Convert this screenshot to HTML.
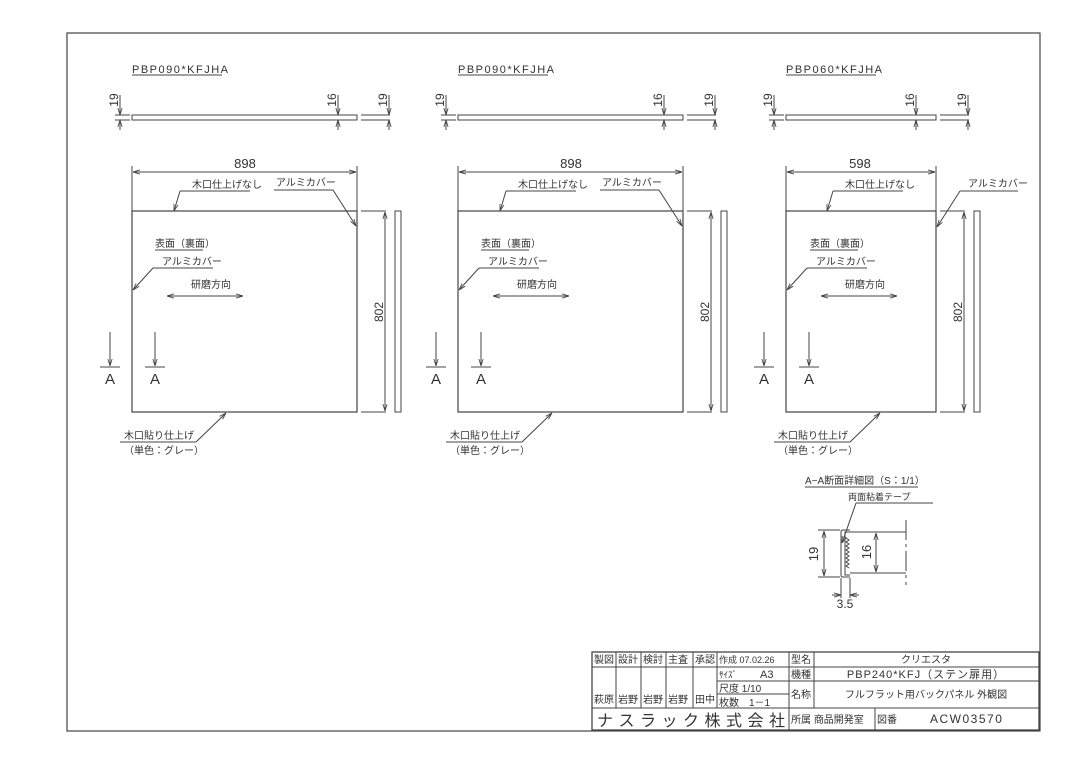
<!DOCTYPE html>
<html><head><meta charset="utf-8"><style>
html,body{margin:0;padding:0;background:#fff;}
svg{display:block;font-family:"Liberation Sans","Noto Sans CJK JP",sans-serif;}
text{fill:#333;}
</style></head><body>
<svg width="1080" height="764" viewBox="0 0 1080 764" xmlns="http://www.w3.org/2000/svg">
<defs>
<marker id="a" viewBox="0 0 10 10" refX="10" refY="5" markerWidth="7" markerHeight="7" orient="auto-start-reverse"><path d="M0,2 L10,5 L0,8" fill="none" stroke="#444" stroke-width="1.2"/></marker>
</defs>
<rect x="0" y="0" width="1080" height="764" fill="#fff"/>
<rect x="67" y="33" width="973" height="698" fill="none" stroke="#444" stroke-width="1.2"/>

<g stroke="#444" stroke-width="1" fill="none" id="p1">
<text x="132" y="73" font-size="11" stroke="none" letter-spacing="1.5">PBP090*KFJHA</text>
<line x1="132" y1="75" x2="222" y2="75"/>
<rect x="132" y="115" width="225" height="5"/>
<line x1="361" y1="115" x2="390" y2="115"/><line x1="361" y1="120" x2="390" y2="120"/>
<line x1="120" y1="95" x2="120" y2="115" marker-end="url(#a)"/><line x1="120" y1="130" x2="120" y2="120" marker-end="url(#a)"/>
<line x1="115" y1="115" x2="130" y2="115"/><line x1="115" y1="120" x2="130" y2="120"/>
<line x1="338" y1="95" x2="338" y2="115" marker-end="url(#a)"/><line x1="338" y1="130" x2="338" y2="120" marker-end="url(#a)"/>
<line x1="389" y1="95" x2="389" y2="115" marker-end="url(#a)"/><line x1="389" y1="130" x2="389" y2="120" marker-end="url(#a)"/>
<text x="118" y="100" font-size="12" stroke="none" transform="rotate(-90 118 100)" text-anchor="middle">19</text>
<text x="336" y="100" font-size="12" stroke="none" transform="rotate(-90 336 100)" text-anchor="middle">16</text>
<text x="387" y="100" font-size="12" stroke="none" transform="rotate(-90 387 100)" text-anchor="middle">19</text>
<rect x="132" y="211" width="225" height="201" stroke-width="1.2"/>
<line x1="132" y1="166" x2="132" y2="211"/><line x1="357" y1="166" x2="357" y2="211"/>
<line x1="133" y1="172" x2="356" y2="172" marker-start="url(#a)" marker-end="url(#a)"/>
<text x="245" y="168" font-size="13" stroke="none" text-anchor="middle">898</text>
<text x="192" y="188" font-size="10" stroke="none">木口仕上げなし</text>
<line x1="180" y1="191" x2="250" y2="191"/><line x1="180" y1="191" x2="174" y2="211" marker-end="url(#a)"/>
<text x="276" y="186" font-size="10" stroke="none">アルミカバー</text>
<line x1="274" y1="190" x2="333" y2="190"/><line x1="333" y1="190" x2="356" y2="226" marker-end="url(#a)"/>
<line x1="361" y1="211" x2="386" y2="211"/><line x1="361" y1="412" x2="386" y2="412"/>
<line x1="385" y1="212" x2="385" y2="411" marker-start="url(#a)" marker-end="url(#a)"/>
<text x="383" y="312" font-size="12" stroke="none" transform="rotate(-90 383 312)" text-anchor="middle">802</text>
<rect x="395" y="211" width="6" height="201"/>
<text x="155" y="247" font-size="10" stroke="none">表面（裏面）</text>
<line x1="155" y1="250" x2="203" y2="250"/>
<text x="162" y="265" font-size="10" stroke="none">アルミカバー</text>
<line x1="153" y1="268" x2="213" y2="268"/><line x1="153" y1="268" x2="133" y2="290" marker-end="url(#a)"/>
<text x="191" y="288" font-size="10" stroke="none">研磨方向</text>
<line x1="167" y1="296" x2="243" y2="296" marker-start="url(#a)" marker-end="url(#a)"/>
<line x1="110" y1="332" x2="110" y2="366" marker-end="url(#a)"/><line x1="100" y1="367" x2="120" y2="367"/>
<text x="110" y="384" font-size="15" stroke="none" text-anchor="middle">A</text>
<line x1="155" y1="332" x2="155" y2="366" marker-end="url(#a)"/><line x1="145" y1="367" x2="165" y2="367"/>
<text x="155" y="384" font-size="15" stroke="none" text-anchor="middle">A</text>
<line x1="196" y1="442" x2="226" y2="413" marker-end="url(#a)"/><line x1="120" y1="442" x2="196" y2="442"/>
<text x="124" y="439" font-size="10" stroke="none">木口貼り仕上げ</text>
<text x="124" y="454" font-size="10" stroke="none">（単色：グレー）</text>
</g>
<use href="#p1" transform="translate(326,0)"/>

<g stroke="#444" stroke-width="1" fill="none">
<text x="786" y="73" font-size="11" stroke="none" letter-spacing="1.5">PBP060*KFJHA</text>
<line x1="786" y1="75" x2="876" y2="75"/>
<rect x="786" y="115" width="150" height="5"/>
<line x1="940" y1="115" x2="969" y2="115"/><line x1="940" y1="120" x2="969" y2="120"/>
<line x1="774" y1="95" x2="774" y2="115" marker-end="url(#a)"/><line x1="774" y1="130" x2="774" y2="120" marker-end="url(#a)"/>
<line x1="769" y1="115" x2="784" y2="115"/><line x1="769" y1="120" x2="784" y2="120"/>
<line x1="916" y1="95" x2="916" y2="115" marker-end="url(#a)"/><line x1="916" y1="130" x2="916" y2="120" marker-end="url(#a)"/>
<line x1="968" y1="95" x2="968" y2="115" marker-end="url(#a)"/><line x1="968" y1="130" x2="968" y2="120" marker-end="url(#a)"/>
<text x="772" y="100" font-size="12" stroke="none" transform="rotate(-90 772 100)" text-anchor="middle">19</text>
<text x="914" y="100" font-size="12" stroke="none" transform="rotate(-90 914 100)" text-anchor="middle">16</text>
<text x="966" y="100" font-size="12" stroke="none" transform="rotate(-90 966 100)" text-anchor="middle">19</text>
<rect x="786" y="211" width="150" height="201" stroke-width="1.2"/>
<line x1="786" y1="166" x2="786" y2="211"/><line x1="936" y1="166" x2="936" y2="211"/>
<line x1="787" y1="172" x2="935" y2="172" marker-start="url(#a)" marker-end="url(#a)"/>
<text x="860" y="168" font-size="13" stroke="none" text-anchor="middle">598</text>
<text x="845" y="188" font-size="10" stroke="none">木口仕上げなし</text>
<line x1="833" y1="191" x2="903" y2="191"/><line x1="833" y1="191" x2="827" y2="211" marker-end="url(#a)"/>
<text x="968" y="187" font-size="10" stroke="none">アルミカバー</text>
<line x1="960" y1="191" x2="1018" y2="191"/><line x1="960" y1="191" x2="937" y2="227" marker-end="url(#a)"/>
<line x1="940" y1="211" x2="965" y2="211"/><line x1="940" y1="412" x2="965" y2="412"/>
<line x1="964" y1="212" x2="964" y2="411" marker-start="url(#a)" marker-end="url(#a)"/>
<text x="962" y="312" font-size="12" stroke="none" transform="rotate(-90 962 312)" text-anchor="middle">802</text>
<rect x="974" y="211" width="6" height="201"/>
<text x="810" y="247" font-size="10" stroke="none">表面（裏面）</text>
<line x1="810" y1="250" x2="858" y2="250"/>
<text x="816" y="265" font-size="10" stroke="none">アルミカバー</text>
<line x1="807" y1="268" x2="867" y2="268"/><line x1="807" y1="268" x2="787" y2="290" marker-end="url(#a)"/>
<text x="845" y="288" font-size="10" stroke="none">研磨方向</text>
<line x1="821" y1="296" x2="897" y2="296" marker-start="url(#a)" marker-end="url(#a)"/>
<line x1="764" y1="332" x2="764" y2="366" marker-end="url(#a)"/><line x1="754" y1="367" x2="774" y2="367"/>
<text x="764" y="384" font-size="15" stroke="none" text-anchor="middle">A</text>
<line x1="809" y1="332" x2="809" y2="366" marker-end="url(#a)"/><line x1="799" y1="367" x2="819" y2="367"/>
<text x="809" y="384" font-size="15" stroke="none" text-anchor="middle">A</text>
<line x1="850" y1="442" x2="880" y2="413" marker-end="url(#a)"/><line x1="774" y1="442" x2="850" y2="442"/>
<text x="778" y="439" font-size="10" stroke="none">木口貼り仕上げ</text>
<text x="778" y="454" font-size="10" stroke="none">（単色：グレー）</text>

<text x="805" y="484" font-size="10" stroke="none">A−A断面詳細図（S：1/1）</text>
<line x1="805" y1="487" x2="918" y2="487"/>
<text x="848" y="500" font-size="9" stroke="none">両面粘着テープ</text>
<line x1="856" y1="503" x2="933" y2="503"/><line x1="856" y1="503" x2="842" y2="543" marker-end="url(#a)"/>
<path d="M850,530 L843,530 Q841,530 841,532 L841,575 Q841,577 843,577 L850,577"/>
<path d="M850,532 L845,532 L845,575 L850,575"/>
<path d="M846,538 l3,2 l-3,2 l3,2 l-3,2 l3,2 l-3,2 l3,2 l-3,2 l3,2 l-3,2 l3,2 l-3,2 l3,2 l-3,2 l3,2"/>
<line x1="850" y1="532" x2="906" y2="532"/><line x1="850" y1="573" x2="906" y2="573"/>
<line x1="906" y1="520" x2="906" y2="585" stroke-dasharray="20 4 3 4"/>
<line x1="818" y1="530" x2="840" y2="530"/><line x1="818" y1="577" x2="840" y2="577"/>
<line x1="824" y1="531" x2="824" y2="576" marker-start="url(#a)" marker-end="url(#a)"/>
<text x="818" y="554" font-size="13" stroke="none" transform="rotate(-90 818 554)" text-anchor="middle">19</text>
<line x1="876" y1="533" x2="876" y2="572" marker-start="url(#a)" marker-end="url(#a)"/>
<text x="871" y="552" font-size="13" stroke="none" transform="rotate(-90 871 552)" text-anchor="middle">16</text>
<line x1="841" y1="578" x2="841" y2="598"/><line x1="850" y1="578" x2="850" y2="598"/>
<line x1="832" y1="595" x2="841" y2="595" marker-end="url(#a)"/><line x1="859" y1="595" x2="850" y2="595" marker-end="url(#a)"/>
<text x="845" y="608" font-size="12" stroke="none" text-anchor="middle">3.5</text>
</g>

<g stroke="#444" stroke-width="1" fill="none">
<rect x="592" y="652" width="447" height="78" stroke-width="1.3"/>
<line x1="592" y1="667" x2="717" y2="667"/>
<line x1="592" y1="708" x2="1039" y2="708"/>
<line x1="717" y1="667" x2="1039" y2="667"/>
<line x1="717" y1="681" x2="1039" y2="681"/>
<line x1="717" y1="694" x2="789" y2="694"/>
<line x1="616" y1="652" x2="616" y2="708"/><line x1="641" y1="652" x2="641" y2="708"/>
<line x1="666" y1="652" x2="666" y2="708"/><line x1="693" y1="652" x2="693" y2="708"/>
<line x1="717" y1="652" x2="717" y2="708"/><line x1="789" y1="652" x2="789" y2="730"/>
<line x1="814" y1="652" x2="814" y2="708"/><line x1="875" y1="708" x2="875" y2="730"/>
</g>
<g font-size="10" fill="#222">
<text x="594" y="663">製図</text><text x="618" y="663">設計</text><text x="643" y="663">検討</text><text x="668" y="663">主査</text><text x="695" y="663">承認</text>
<text x="594" y="703">萩原</text><text x="618" y="703">岩野</text><text x="643" y="703">岩野</text><text x="668" y="703">岩野</text><text x="695" y="703">田中</text>
<text x="719" y="663" font-size="9">作成 07.02.26</text>
<text x="719" y="678" font-size="9">ｻｲｽﾞ</text><text x="760" y="678" font-size="11">A3</text>
<text x="719" y="692">尺度 1/10</text>
<text x="719" y="706">枚数　1－1</text>
<text x="791" y="663">型名</text><text x="791" y="678">機種</text><text x="791" y="698">名称</text>
<text x="926" y="663" text-anchor="middle">クリエスタ</text>
<text x="926" y="678" text-anchor="middle" font-size="11" letter-spacing="1">PBP240*KFJ（ステン扉用）</text>
<text x="926" y="698" text-anchor="middle">フルフラット用バックパネル 外観図</text>
<text x="597" y="726" font-size="16" letter-spacing="5.5">ナスラック株式会社</text>
<text x="791" y="723">所属 商品開発室</text>
<text x="877" y="723">図番</text>
<text x="930" y="723" font-size="12" letter-spacing="1.5">ACW03570</text>
</g>
</svg>
</body></html>
